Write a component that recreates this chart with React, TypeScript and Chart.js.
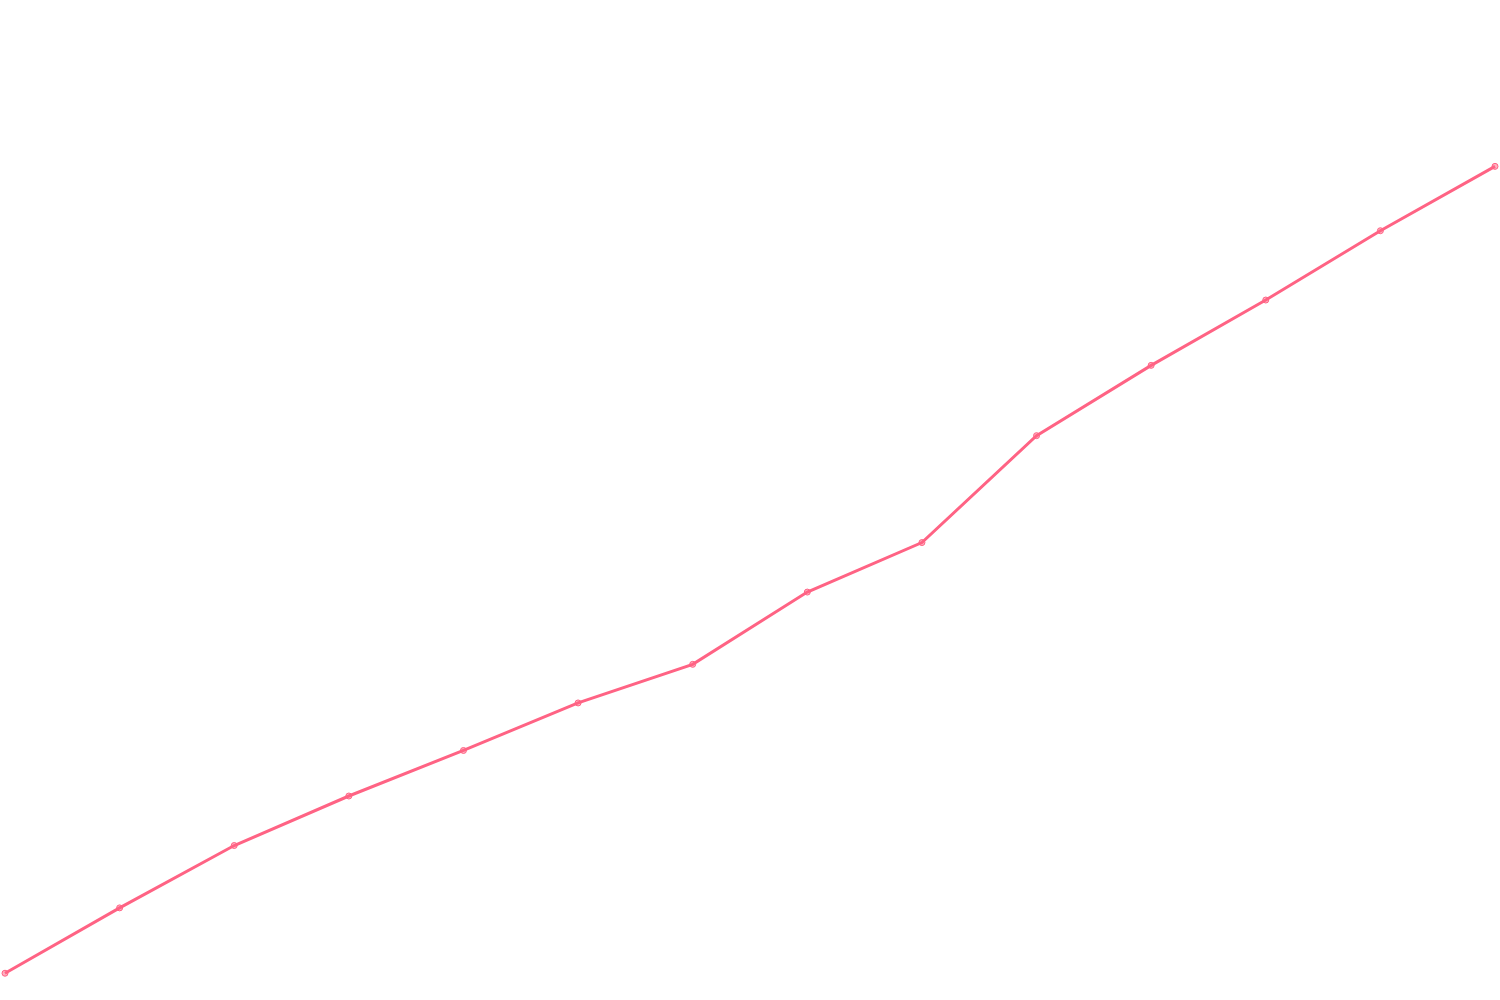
import React, { useRef, useEffect } from 'react';
import { Chart, ChartConfiguration, registerables } from 'chart.js';

Chart.register(...registerables);

// Categories along the hidden x axis
const labels: string[] = ['1', '2', '3', '4', '5', '6', '7', '8', '9', '10', '11', '12', '13', '14'];

// Series values (hidden y axis, 0..100)
const values: number[] = [2.2, 8.8, 15.1, 20.1, 24.7, 29.5, 33.4, 40.7, 45.7, 56.5, 63.6, 70.2, 77.2, 83.7];

const yMin = 0;
const yMax = 100;

const App: React.FC = () => {
  const chartRef = useRef<HTMLCanvasElement>(null);
  const chartInstance = useRef<Chart | null>(null);

  useEffect(() => {
    document.body.style.margin = '0';
    if (!chartRef.current) return;

    if (chartInstance.current) {
      chartInstance.current.destroy();
    }

    const ctx = chartRef.current.getContext('2d');
    if (!ctx) return;

    const config: ChartConfiguration = {
      type: 'line',
      data: {
        labels,
        datasets: [
          {
            label: 'Series',
            data: values,
            borderColor: 'rgb(255, 99, 132)',
            backgroundColor: 'rgba(255, 99, 132, 0.5)',
            borderWidth: 3,
            pointRadius: 3,
            pointBorderWidth: 1,
            pointBorderColor: 'rgb(255, 99, 132)',
            pointBackgroundColor: 'rgba(255, 99, 132, 0.5)',
            tension: 0,
            fill: false,
          },
        ],
      },
      options: {
        responsive: true,
        maintainAspectRatio: false,
        animation: false,
        layout: { padding: 5 },
        plugins: {
          legend: { display: false },
          title: { display: false },
          tooltip: { enabled: false },
        },
        scales: {
          x: { display: false },
          y: { display: false, min: yMin, max: yMax },
        },
      },
    };

    chartInstance.current = new Chart(ctx, config);

    return () => {
      if (chartInstance.current) {
        chartInstance.current.destroy();
        chartInstance.current = null;
      }
    };
  }, []);

  return (
    <div style={{ position: 'fixed', left: 0, top: 0, width: 1500, height: 1000, background: '#fff' }}>
      <canvas ref={chartRef}></canvas>
    </div>
  );
};

export default App;
